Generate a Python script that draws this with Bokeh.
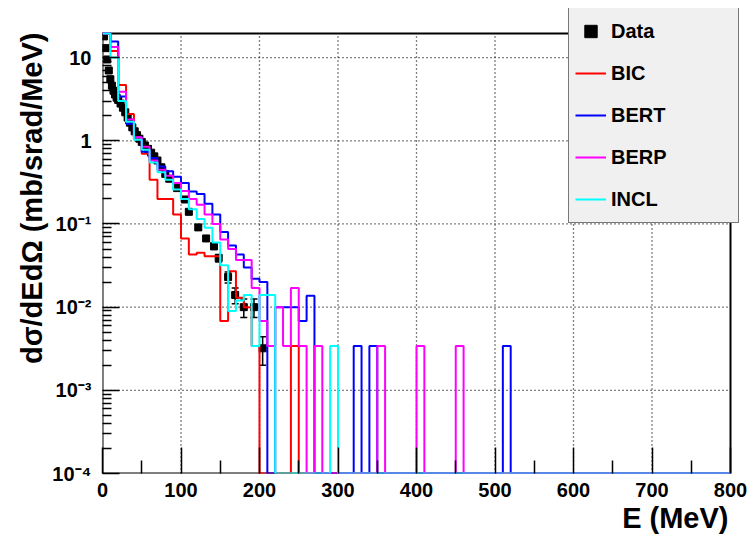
import numpy as np
from bokeh.plotting import figure
from bokeh.models import (FixedTicker, Legend, LegendItem, Whisker, Title,
                          TeeHead, ColumnDataSource, Range1d)
from bokeh.embed import file_html
from bokeh.resources import INLINE

# ---------------- data ----------------
bin_edges = list(range(0, 810, 10))          # 10 MeV bins, 0..800 MeV

data_e = [2, 4, 6, 8, 10, 12, 14, 16, 18, 20, 23, 26, 29, 32, 35, 38, 41, 44,
          47, 50, 54, 58, 62, 66, 70, 75, 80, 85, 95, 105, 110, 122, 132, 142,
          148, 160, 169, 180, 193, 204]
data_v = [18, 13, 9.5, 7.0, 5.5, 4.6, 4.0, 3.6, 3.3, 3.1, 2.8, 2.5, 2.2, 1.9,
          1.65, 1.45, 1.3, 1.17, 1.06, 0.97, 0.88, 0.80, 0.72, 0.65, 0.58,
          0.48, 0.40, 0.35, 0.27, 0.197, 0.14, 0.091, 0.067, 0.054, 0.039,
          0.023, 0.014, 0.010, 0.010, 0.0032]
data_err = [0.9, 0.6, 0.45, 0.3, 0.25, 0.2, 0.18, 0.15, 0.14, 0.13, 0.11, 0.1,
            0.09, 0.08, 0.07, 0.06, 0.05, 0.05, 0.045, 0.04, 0.035, 0.03,
            0.03, 0.027, 0.024, 0.02, 0.018, 0.016, 0.013, 0.01, 0.008, 0.006,
            0.005, 0.0045, 0.004, 0.0035, 0.003, 0.0025, 0.0025, 0.0012]

bic = [30, 12, 4.7, 2.1, 1.05, 0.70, 0.34, 0.20, 0.20, 0.13,
       0.067, 0.043, 0.045, 0.041, 0.041, 0.0068, 0.027, 0.013, 0.010, 0.0034,
       0, 0, 0, 0, 0.0034, 0, 0, 0, 0, 0,
       0, 0, 0, 0, 0, 0, 0, 0, 0, 0,
       0, 0, 0, 0, 0, 0, 0, 0, 0, 0,
       0, 0, 0, 0, 0, 0, 0, 0, 0, 0,
       0, 0, 0, 0, 0, 0, 0, 0, 0, 0,
       0, 0, 0, 0, 0, 0, 0, 0, 0, 0]
bert = [30, 15.6, 3.4, 1.6, 1.1, 0.74, 0.62, 0.49, 0.43, 0.37,
        0.31, 0.245, 0.23, 0.175, 0.13, 0.08, 0.055, 0.043, 0.030, 0.022,
        0.020, 0, 0.010, 0.010, 0.010, 0.0068, 0.0137, 0, 0, 0,
        0, 0, 0.0034, 0, 0.0034, 0, 0, 0, 0, 0,
        0, 0, 0, 0, 0, 0, 0, 0, 0, 0,
        0, 0.0034, 0, 0, 0, 0, 0, 0, 0, 0,
        0, 0, 0, 0, 0, 0, 0, 0, 0, 0,
        0, 0, 0, 0, 0, 0, 0, 0, 0, 0]
berp = [30, 13.4, 3.9, 1.8, 1.1, 0.85, 0.58, 0.45, 0.38, 0.31,
        0.25, 0.20, 0.17, 0.13, 0.10, 0.065, 0.05, 0.037, 0.037, 0.017,
        0.0068, 0.0034, 0.010, 0.0034, 0.017, 0.0034, 0, 0.0034, 0, 0,
        0, 0, 0, 0, 0, 0.0034, 0, 0, 0, 0,
        0.0034, 0, 0, 0, 0, 0.0034, 0, 0, 0, 0,
        0, 0, 0, 0, 0, 0, 0, 0, 0, 0,
        0, 0, 0, 0, 0, 0, 0, 0, 0, 0,
        0, 0, 0, 0, 0, 0, 0, 0, 0, 0]
incl = [30, 10, 3.0, 1.7, 1.03, 0.78, 0.55, 0.42, 0.34, 0.26,
        0.20, 0.15, 0.115, 0.09, 0.06, 0.032, 0.009, 0.012, 0.014, 0.0034,
        0.014, 0.014, 0, 0, 0, 0, 0, 0, 0, 0.0034,
        0, 0, 0, 0, 0, 0, 0, 0, 0, 0,
        0, 0, 0, 0, 0, 0, 0, 0, 0, 0,
        0, 0, 0, 0, 0, 0, 0, 0, 0, 0,
        0, 0, 0, 0, 0, 0, 0, 0, 0, 0,
        0, 0, 0, 0, 0, 0, 0, 0, 0, 0]

series_names = ["BIC", "BERT", "BERP", "INCL"]
series_colors = ["#ff0000", "#0000ff", "#ff00ff", "#00ffff"]

x_ticks = [0, 100, 200, 300, 400, 500, 600, 700, 800]
x_minor = [50, 150, 250, 350, 450, 550, 650, 750]
y_ticks = [1e-4, 1e-3, 1e-2, 1e-1, 1, 10]
y_tick_labels = ["10\u207b\u2074", "10\u207b\u00b3", "10\u207b\u00b2",
                 "10\u207b\u00b9", "1", "10"]

XMIN, XMAX = 0, 800
YMIN, YMAX = 1e-4, 19.5
FONT = "Liberation Sans"

# ---------------- layout (pixels) ----------------
W, H = 752, 536
AX_LEFT, AX_RIGHT, AX_TOP, AX_BOTTOM = 102, 730, 33, 473   # ROOT frame
CANVAS_RIGHT, CANVAS_TOP = 740, 8      # bokeh frame extended for the legend

x_view_max = XMIN + (XMAX - XMIN) * (CANVAS_RIGHT - AX_LEFT) / (AX_RIGHT - AX_LEFT)
ly0, ly1 = np.log10(YMIN), np.log10(YMAX)
y_view_max = 10 ** (ly0 + (ly1 - ly0) * (AX_BOTTOM - CANVAS_TOP) / (AX_BOTTOM - AX_TOP))

p = figure(width=W, height=H, x_range=Range1d(XMIN, x_view_max),
           y_range=Range1d(YMIN, y_view_max), y_axis_type="log",
           output_backend="svg", toolbar_location=None,
           min_border_left=AX_LEFT, min_border_right=W - CANVAS_RIGHT,
           min_border_top=CANVAS_TOP, min_border_bottom=H - AX_BOTTOM,
           background_fill_color="white", border_fill_color="white")
p.outline_line_color = None
p.grid.visible = False

y_minor = [m * d for d in y_ticks[:-1] for m in range(2, 10)]
p.xaxis.ticker = FixedTicker(ticks=x_ticks, minor_ticks=x_minor)
p.yaxis.ticker = FixedTicker(ticks=y_ticks, minor_ticks=y_minor)
p.yaxis.major_label_overrides = dict(zip(y_ticks, y_tick_labels))
p.xaxis.bounds = (XMIN, XMAX)
p.yaxis.bounds = (YMIN, YMAX)

for ax in (p.xaxis[0], p.yaxis[0]):
    ax.axis_line_color = None
    ax.major_tick_out = 0
    ax.minor_tick_out = 0
    ax.major_tick_line_color = "black"
    ax.minor_tick_line_color = "black"
    ax.major_tick_line_width = 1.5
    ax.minor_tick_line_width = 1.5
    ax.major_label_text_font = FONT
    ax.major_label_text_font_style = "bold"
    ax.major_label_text_font_size = "20px"
    ax.major_label_text_color = "black"
p.xaxis.major_tick_in = 26
p.xaxis.minor_tick_in = 13
p.yaxis.major_tick_in = 17
p.yaxis.minor_tick_in = 9
p.xaxis.major_label_standoff = 9
p.yaxis.major_label_standoff = 11

# dotted grid at the major ticks, inside the ROOT frame
gx = x_ticks[1:-1]
p.segment(x0=gx, x1=gx, y0=[YMIN] * len(gx), y1=[YMAX] * len(gx),
          line_color="black", line_dash="1 3", line_width=1.3)
gy = y_ticks[1:]
p.segment(x0=[XMIN] * len(gy), x1=[XMAX] * len(gy), y0=gy, y1=gy,
          line_color="black", line_dash="1 3", line_width=1.3)

# frame box
p.quad(left=[XMIN], right=[XMAX], bottom=[YMIN], top=[YMAX],
       fill_color=None, line_color="black", line_width=2)

# data points with error bars
src = ColumnDataSource(dict(
    x=data_e, y=data_v,
    upper=[v + e for v, e in zip(data_v, data_err)],
    lower=[max(v - e, YMIN) for v, e in zip(data_v, data_err)]))
wh = Whisker(source=src, base="x", upper="upper", lower="lower",
             dimension="height", line_color="black", line_width=1.5,
             upper_head=TeeHead(size=7, line_color="black", line_width=1.5),
             lower_head=TeeHead(size=7, line_color="black", line_width=1.5),
             level="underlay")
p.add_layout(wh)
r_data = p.scatter("x", "y", source=src, marker="square", size=7,
                   color="black")

# histograms (empty bins drawn on the frame bottom, overflow clipped at top)
renderers = []
for vals, col in zip([bic, bert, berp, incl], series_colors):
    ys = [min(max(v, YMIN), YMAX) for v in vals]
    ys = ys + [ys[-1]]
    r = p.step(bin_edges, ys, mode="after", line_color=col, line_width=2)
    renderers.append(r)

items = [LegendItem(label="Data", renderers=[r_data])]
items += [LegendItem(label=n, renderers=[r]) for n, r in zip(series_names, renderers)]
legend = Legend(items=items, location=(466, 250), orientation="vertical",
                padding=6, spacing=8, glyph_width=31, glyph_height=34,
                label_height=34, label_width=121, label_standoff=5, margin=0,
                label_text_font=FONT, label_text_font_style="bold",
                label_text_font_size="20px", label_text_color="black",
                background_fill_color="#f0f0f0", background_fill_alpha=1,
                border_line_color="black", border_line_width=1.5)
p.add_layout(legend, "center")

# axis titles (ROOT style: aligned to the axis end)
p.add_layout(Title(text="d\u03c3/dEd\u03a9 (mb/srad/MeV)", align="right",
                   offset=AX_TOP - CANVAS_TOP - 1, vertical_align="middle",
                   standoff=2, text_font=FONT, text_font_style="bold",
                   text_font_size="29px", text_color="black"), "left")
p.add_layout(Title(text="E (MeV)", align="right",
                   offset=CANVAS_RIGHT - AX_RIGHT + 2, vertical_align="bottom",
                   standoff=0, text_font=FONT, text_font_style="bold",
                   text_font_size="29px", text_color="black"), "below")

open("out.html", "w").write(file_html(p, INLINE))
